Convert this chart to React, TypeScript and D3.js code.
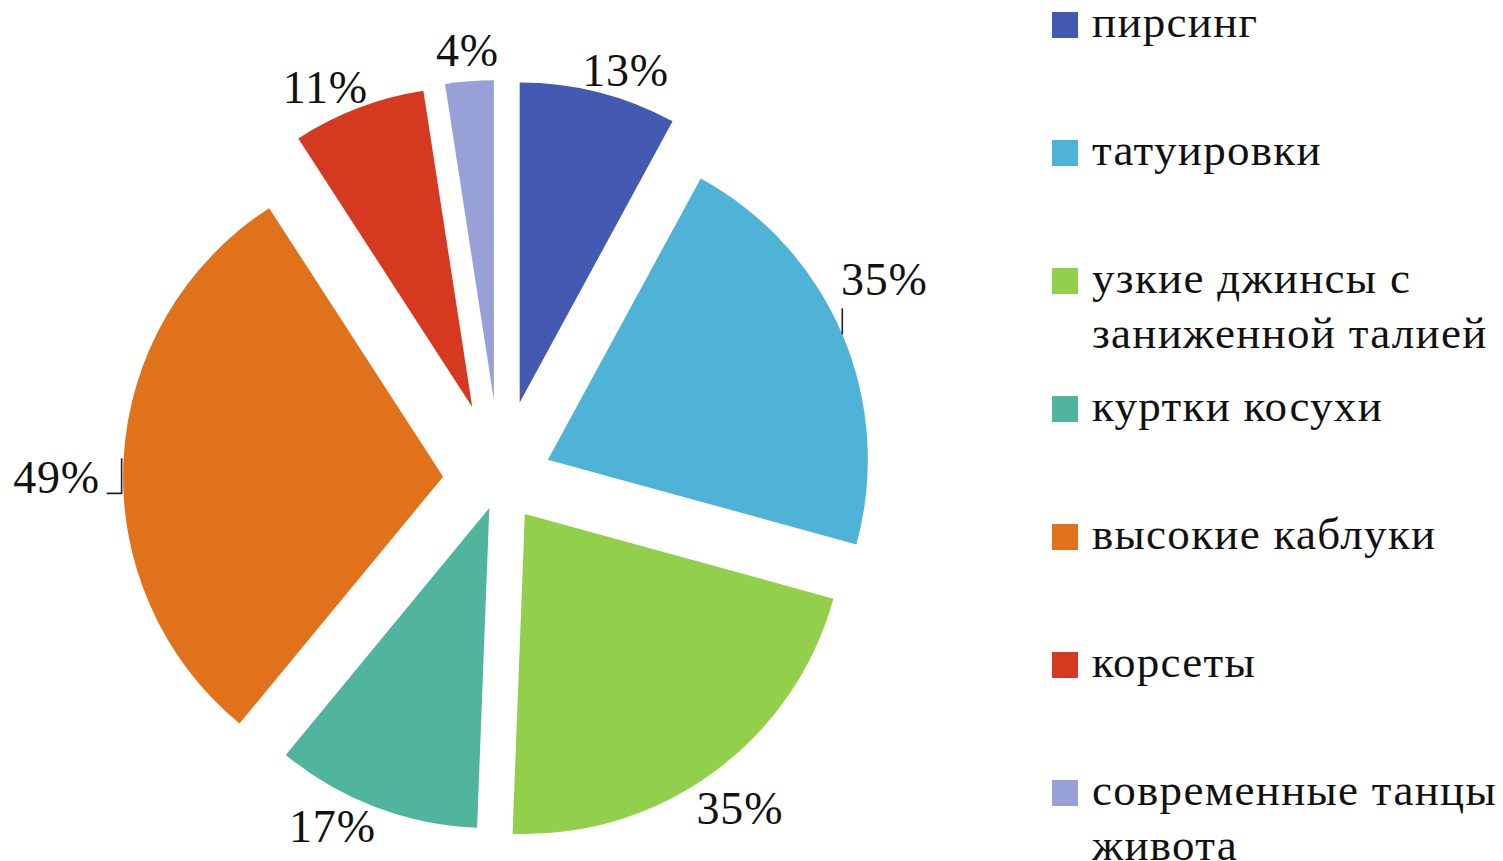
import * as d3 from 'd3'

// survey answers, percent of respondents (multiple choice, so they sum past 100)
const categories = [
  'пирсинг',
  'татуировки',
  'узкие джинсы с заниженной талией',
  'куртки косухи',
  'высокие каблуки',
  'корсеты',
  'современные танцы живота',
]
const legendLines = [
  ['пирсинг'],
  ['татуировки'],
  ['узкие джинсы с', 'заниженной талией'],
  ['куртки косухи'],
  ['высокие каблуки'],
  ['корсеты'],
  ['современные танцы', 'живота'],
]
const values = [13, 35, 35, 17, 49, 11, 4]
const colors = ['#4459B1', '#4FB3D7', '#92CF4B', '#50B59C', '#E0721B', '#D5391F', '#97A1D8']

// layout tweaks per slice (explosion distance, label nudge from the outer arc midpoint)
const explode = [80, 52, 42, 30, 57, 78, 80]
const labelNudge = [
  [27, -22],
  [42, -55],
  [26, 36],
  [-43, 19],
  [-67, 19],
  [-33, -21],
  [-2, -31],
]
const hasLeader = [false, true, false, false, true, false, false]

const width = 1503
const height = 861
const cx = 500
const cy = 480
const radius = 320
const font = '"Liberation Serif", "Times New Roman", serif'

const App = () => {
  const pie = d3
    .pie<number>()
    .sort(null)
    .value((d) => d)
  const arcs = pie(values)
  const arcGen = d3.arc<d3.PieArcDatum<number>>().innerRadius(0).outerRadius(radius)

  return (
    <svg
      width={width}
      height={height}
      style={{ position: 'absolute', left: 0, top: 0, background: '#fff' }}
    >
      <g transform={`translate(${cx} ${cy})`}>
        {arcs.map((a, i) => {
          const mid = (a.startAngle + a.endAngle) / 2
          const dx = explode[i] * Math.sin(mid)
          const dy = -explode[i] * Math.cos(mid)
          return (
            <path
              key={categories[i]}
              d={arcGen(a) || ''}
              transform={`translate(${dx} ${dy})`}
              fill={colors[i]}
            />
          )
        })}
        {arcs.map((a, i) => {
          const mid = (a.startAngle + a.endAngle) / 2
          const R = radius + explode[i]
          const ax = R * Math.sin(mid)
          const ay = -R * Math.cos(mid)
          const lx = ax + labelNudge[i][0]
          const ly = ay + labelNudge[i][1]
          let leader = null
          if (hasLeader[i]) {
            const d =
              Math.sin(mid) > 0
                ? `M${ax},${ay} L${ax},${ly + 29}`
                : `M${ax - 2},${ay} L${ax - 2},${ly + 16} L${lx + 50},${ly + 16}`
            leader = <path d={d} fill="none" stroke="#222" strokeWidth={1.6} />
          }
          return (
            <g key={'lbl' + i}>
              {leader}
              <text
                x={lx}
                y={ly + 16}
                textAnchor="middle"
                fontFamily={font}
                fontSize={46}
                letterSpacing={0.8}
                fill="#111"
              >
                {`${values[i]}%`}
              </text>
            </g>
          )
        })}
      </g>
      <g>
        {legendLines.map((lines, i) => (
          <g key={'leg' + i} transform={`translate(1052 ${128 * i})`}>
            <rect x={0} y={12} width={26} height={26} fill={colors[i]} />
            {lines.map((t, j) => (
              <text
                key={j}
                x={40}
                y={37 + j * 55}
                fontFamily={font}
                fontSize={45}
                letterSpacing={1.3}
                fill="#111"
              >
                {t}
              </text>
            ))}
          </g>
        ))}
      </g>
    </svg>
  )
}

export default App
